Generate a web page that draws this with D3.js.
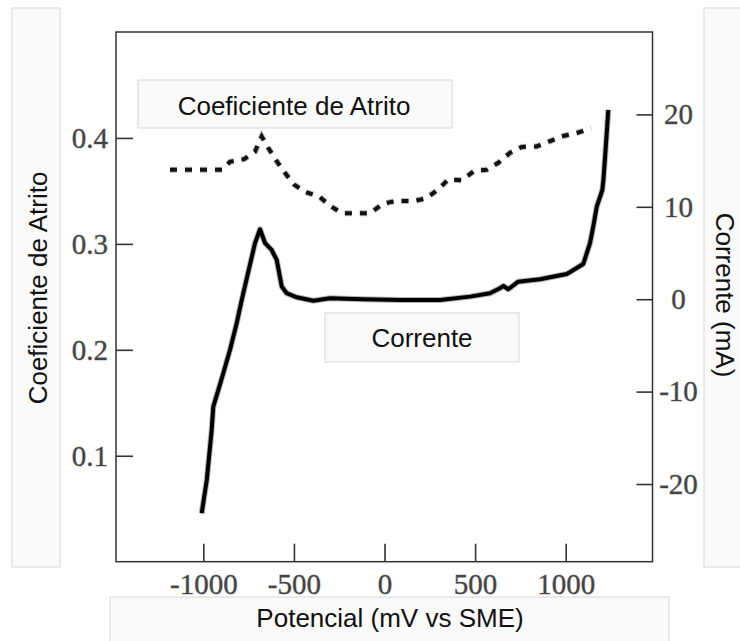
<!DOCTYPE html>
<html>
<head>
    <title>Atrito e corrente vs potencial</title>
    <script src="https://cdnjs.cloudflare.com/ajax/libs/d3/7.8.5/d3.min.js"></script>
    <style>
        body { margin: 0; background: #fff; }
    </style>
</head>
<body>
    <div id="vis"></div>

    <script>
        // valores
        var potencialAtrito = [-1184, -897, -853, -775, -715, -678, -643, -595, -549, -499, -438, -360, -301, -236,
            -80, -7, 67, 159, 229, 297, 352, 426, 496, 564, 628, 693, 757, 840, 914, 978, 1061, 1140];
        var atrito = [0.370, 0.370, 0.3775, 0.380, 0.387, 0.4015, 0.391, 0.378, 0.367, 0.356, 0.349, 0.3446, 0.336, 0.329,
            0.329, 0.338, 0.3406, 0.3403, 0.343, 0.3514, 0.3608, 0.360, 0.369, 0.370, 0.3765, 0.386, 0.3915, 0.392,
            0.397, 0.4015, 0.4047, 0.409];

        var potencialCorrente = [-1009, -981, -954, -945, -917, -890, -853, -816, -788, -715, -687, -659, -623, -595,
            -567, -540, -485, -393, -301, -117, 86, 306, 472, 582, 637, 656, 683, 738, 858, 1006, 1097, 1134, 1152,
            1171, 1202, 1208, 1220, 1235];
        var corrente = [-23.16, -19.56, -14.15, -11.63, -9.82, -8.01, -5.49, -2.60, -0.08, 6.06, 7.57, 6.06, 5.33, 4.25,
            1.36, 0.65, 0.21, -0.16, 0.10, 0.00, -0.08, -0.08, 0.28, 0.65, 1.19, 1.44, 1.08, 1.90, 2.16, 2.73, 3.82,
            6.06, 7.86, 10.0, 11.82, 12.9, 16.15, 20.48];

        var xTicks = [-1000, -500, 0, 500, 1000];
        var atritoTicks = [0.1, 0.2, 0.3, 0.4];
        var correnteTicks = [-20, -10, 0, 10, 20];

        var W = 740, H = 641;
        // window.top is read-only, so no plain "top" here
        var mLeft = 116, mRight = 652.5, mTop = 32, mBottom = 561.7;

        var svg = d3.select("#vis").append("svg")
            .attr("width", W)
            .attr("height", H);

        var x = d3.scaleLinear().domain([-1482, 1479]).range([mLeft, mRight]);
        var yA = d3.scaleLinear().domain([0, 0.5]).range([mBottom, mTop]);
        var yC = d3.scaleLinear().domain([-28.44, 28.92]).range([562, mTop]);

        // caixas claras atras dos titulos
        function box(x0, y0, w, h) {
            svg.append("rect")
                .attr("x", x0).attr("y", y0)
                .attr("width", w).attr("height", h)
                .style("fill", "#fafafa")
                .style("stroke", "#d8d8d8")
                .style("stroke-width", 1);
        }
        box(12, 8, 48, 559);
        box(704, 8, 40, 559);
        box(110, 597, 559, 48);

        // moldura do grafico
        svg.append("rect")
            .attr("x", mLeft).attr("y", mTop)
            .attr("width", mRight - mLeft).attr("height", mBottom - mTop)
            .style("fill", "none")
            .style("stroke", "#333")
            .style("stroke-width", 1.5);

        box(138, 80, 314, 48);
        box(325, 313, 194, 49);

        var fmt = function(d) { return String(d); };

        var gx = svg.append("g")
            .attr("transform", "translate(0," + mBottom + ")")
            .call(d3.axisBottom(x).tickValues(xTicks).tickSizeInner(-18).tickSizeOuter(0).tickPadding(12).tickFormat(fmt));

        var gl = svg.append("g")
            .attr("transform", "translate(" + mLeft + ",0)")
            .call(d3.axisLeft(yA).tickValues(atritoTicks).tickSizeInner(-17).tickSizeOuter(0).tickPadding(8).tickFormat(fmt));

        var gr = svg.append("g")
            .attr("transform", "translate(" + mRight + ",0)")
            .call(d3.axisRight(yC).tickValues(correnteTicks).tickSizeInner(-16).tickSizeOuter(0).tickPadding(26).tickFormat(fmt));
        gr.selectAll("text").attr("text-anchor", "middle");

        [gx, gl, gr].forEach(function(g) {
            g.select(".domain").remove();
            g.selectAll("line").style("stroke", "#333").style("stroke-width", 1.6);
            g.selectAll("text")
                .style("font-family", "'Liberation Serif', 'Times New Roman', serif")
                .style("font-size", "29px")
                .style("fill", "#444")
                .style("stroke", "#bbb")
                .style("stroke-width", 1)
                .style("paint-order", "stroke");
        });

        // curvas
        var lineA = d3.line()
            .x(function(d, i) { return x(potencialAtrito[i]); })
            .y(function(d) { return yA(d); });
        var lineC = d3.line()
            .x(function(d, i) { return x(potencialCorrente[i]); })
            .y(function(d) { return yC(d); });

        svg.append("path").attr("d", lineA(atrito))
            .style("fill", "none").style("stroke", "#b5b5b5").style("stroke-width", 6)
            .style("stroke-dasharray", "7,8");
        svg.append("path").attr("d", lineA(atrito))
            .style("fill", "none").style("stroke", "#111").style("stroke-width", 4)
            .style("stroke-dasharray", "7,8");

        svg.append("path").attr("d", lineC(corrente))
            .style("fill", "none").style("stroke", "#b5b5b5").style("stroke-width", 6)
            .style("stroke-linejoin", "round");
        svg.append("path").attr("d", lineC(corrente))
            .style("fill", "none").style("stroke", "#000").style("stroke-width", 4)
            .style("stroke-linejoin", "round");

        // textos
        function label(txt, tx, ty, rot) {
            svg.append("text")
                .attr("transform", "translate(" + tx + "," + ty + ")" + (rot ? " rotate(" + rot + ")" : ""))
                .attr("text-anchor", "middle")
                .style("font-family", "'Liberation Sans', Arial, sans-serif")
                .style("font-size", "26px")
                .style("fill", "#111")
                .text(txt);
        }
        label("Coeficiente de Atrito", 294, 115);
        label("Corrente", 422, 347);
        label("Potencial (mV vs SME)", 390, 627);
        label("Coeficiente de Atrito", 47, 288, -90);
        label("Corrente (mA)", 716, 295, 90);
    </script>
</body>
</html>
